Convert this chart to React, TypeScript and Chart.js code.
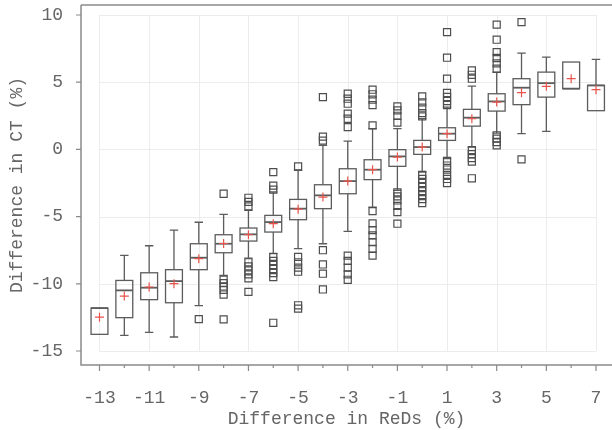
import { useEffect, useRef } from 'react';
import { Chart, registerables } from 'chart.js';

Chart.register(...registerables);

const categories = [-13, -12, -11, -10, -9, -8, -7, -6, -5, -4, -3, -2, -1, 0, 1, 2, 3, 4, 5, 6, 7];
const whiskerLow = [-13.76, -13.84, -13.62, -13.96, -11.63, -9.38, -8.09, -7.76, -7.39, -7.02, -6.1, -4.29, -3.05, -1.69, -0.69, 0.17, 1.21, 1.17, 1.34, 4.52, 2.88];
const q1 = [-13.76, -12.52, -11.18, -11.41, -8.95, -7.69, -6.82, -6.15, -5.23, -4.41, -3.3, -2.25, -1.26, -0.37, 0.67, 1.73, 2.85, 3.33, 3.89, 4.52, 2.88];
const median = [-11.81, -10.49, -10.29, -9.8, -8.06, -7.02, -6.32, -5.41, -4.41, -3.42, -2.36, -1.51, -0.52, 0.17, 1.17, 2.36, 3.57, 4.59, 4.93, 4.52, 4.76];
const q3 = [-11.81, -9.75, -9.18, -8.95, -7.02, -6.35, -5.85, -4.91, -3.72, -2.63, -1.44, -0.77, -0.02, 0.67, 1.61, 2.98, 4.14, 5.26, 5.75, 6.5, 4.76];
const whiskerHigh = [-11.81, -7.89, -7.17, -6.01, -5.42, -4.84, -4.54, -3.17, -1.56, 0.3, 0.62, 1.54, 1.54, 2.28, 3.15, 4.71, 5.75, 7.17, 6.87, 6.5, 6.7];
const means = [-12.48, -10.91, -10.24, -9.99, -8.13, -7.0, -6.35, -5.53, -4.45, -3.55, -2.36, -1.51, -0.57, 0.17, 1.17, 2.28, 3.52, 4.22, 4.69, 5.26, 4.44];
const outliers: number[][] = [
  [],
  [],
  [],
  [],
  [-12.63],
  [-3.3, -9.7, -9.95, -10.2, -10.45, -10.8, -12.65],
  [-3.6, -3.9, -4.24, -8.4, -8.7, -9.0, -9.3, -9.6, -10.6],
  [-1.69, -2.7, -3.0, -8.0, -8.3, -8.6, -8.9, -9.2, -9.5, -12.9],
  [-1.26, -8.0, -8.4, -8.8, -9.1, -11.6, -11.85],
  [3.89, 0.95, 0.65, -7.5, -8.56, -9.25, -10.42],
  [4.14, 3.77, 3.4, 2.66, 2.28, 1.66, -7.9, -8.3, -8.8, -9.3, -9.7],
  [4.44, 4.1, 3.7, 3.3, 1.79, -4.59, -5.5, -6.0, -6.4, -6.9, -7.4, -7.9],
  [3.2, 2.9, 2.5, 2.0, -3.2, -3.5, -3.8, -4.2, -4.66, -5.53],
  [3.94, 3.5, 3.1, 2.7, 2.45, -1.9, -2.2, -2.5, -2.8, -3.1, -3.4, -3.7, -4.0],
  [8.73, 6.82, 5.26, 4.2, 3.9, 3.6, 3.3, -0.85, -1.2, -1.5, -1.9, -2.2, -2.5],
  [5.87, 5.55, 5.26, -0.05, -0.35, -0.65, -0.9, -2.15],
  [9.28, 8.16, 7.24, 6.8, 6.4, 6.0, 1.05, 0.8, 0.55, 0.3],
  [9.47, -0.74],
  [],
  [],
  [],
];
const xTickValues = [-13, -11, -9, -7, -5, -3, -1, 1, 3, 5, 7];
const xMinorTickValues = [-12, -10, -8, -6, -4, -2, 0, 2, 4, 6];
const yTickValues = [-15, -10, -5, 0, 5, 10];

const FONT = { family: "'Liberation Mono', 'Courier New', monospace", size: 18 };
const TEXT_COLOR = '#666666';
const AXIS_COLOR = '#8a8a8a';
const BOX_COLOR = '#5c5c5c';

const boxPlugin = {
  id: 'boxPlot',
  beforeDatasetsDraw(chart: any) {
    const { ctx, scales } = chart;
    const x = scales.x;
    const y = scales.y;
    ctx.save();
    ctx.strokeStyle = '#ececec';
    ctx.lineWidth = 1;
    const gx0 = x.getPixelForValue(xTickValues[0]);
    const gx1 = x.getPixelForValue(xTickValues[xTickValues.length - 1]);
    const gy0 = y.getPixelForValue(yTickValues[0]);
    const gy1 = y.getPixelForValue(yTickValues[yTickValues.length - 1]);
    ctx.beginPath();
    xTickValues.forEach((v) => {
      const px = Math.round(x.getPixelForValue(v)) + 0.5;
      ctx.moveTo(px, gy0);
      ctx.lineTo(px, gy1);
    });
    yTickValues.forEach((v) => {
      const py = Math.round(y.getPixelForValue(v)) + 0.5;
      ctx.moveTo(gx0, py);
      ctx.lineTo(gx1, py);
    });
    ctx.stroke();

    const hw = 0.34;
    const capHw = 0.17;
    ctx.strokeStyle = BOX_COLOR;
    categories.forEach((c, i) => {
      const cx = x.getPixelForValue(c);
      const l = x.getPixelForValue(c - hw);
      const r = x.getPixelForValue(c + hw);
      const cl = x.getPixelForValue(c - capHw);
      const cr = x.getPixelForValue(c + capHw);
      const yq1 = y.getPixelForValue(q1[i]);
      const yq3 = y.getPixelForValue(q3[i]);
      const ymed = y.getPixelForValue(median[i]);
      const ylo = y.getPixelForValue(whiskerLow[i]);
      const yhi = y.getPixelForValue(whiskerHigh[i]);
      ctx.lineWidth = 1.3;
      ctx.beginPath();
      if (whiskerHigh[i] > q3[i]) {
        ctx.moveTo(cx, yq3);
        ctx.lineTo(cx, yhi);
        ctx.moveTo(cl, yhi);
        ctx.lineTo(cr, yhi);
      }
      if (whiskerLow[i] < q1[i]) {
        ctx.moveTo(cx, yq1);
        ctx.lineTo(cx, ylo);
        ctx.moveTo(cl, ylo);
        ctx.lineTo(cr, ylo);
      }
      ctx.stroke();
      ctx.strokeRect(l, yq3, r - l, yq1 - yq3);
      ctx.lineWidth = 1.8;
      ctx.beginPath();
      ctx.moveTo(l, ymed);
      ctx.lineTo(r, ymed);
      ctx.stroke();
    });
    ctx.restore();
  },
  afterDraw(chart: any) {
    const { ctx, scales, chartArea } = chart;
    const x = scales.x;
    const y = scales.y;
    ctx.save();
    ctx.strokeStyle = AXIS_COLOR;
    ctx.lineWidth = 1.5;
    ctx.beginPath();
    ctx.moveTo(chartArea.left, chartArea.top);
    ctx.lineTo(chartArea.right, chartArea.top);
    ctx.moveTo(chartArea.left, chartArea.top);
    ctx.lineTo(chartArea.left, chartArea.bottom);
    ctx.lineTo(chartArea.right, chartArea.bottom);
    ctx.stroke();
    ctx.lineWidth = 1.2;
    ctx.beginPath();
    yTickValues.forEach((v) => {
      const py = y.getPixelForValue(v);
      ctx.moveTo(chartArea.left - 5, py);
      ctx.lineTo(chartArea.left, py);
    });
    xTickValues.forEach((v) => {
      const px = x.getPixelForValue(v);
      ctx.moveTo(px, chartArea.bottom);
      ctx.lineTo(px, chartArea.bottom + 6);
    });
    xMinorTickValues.forEach((v) => {
      const px = x.getPixelForValue(v);
      ctx.moveTo(px, chartArea.bottom);
      ctx.lineTo(px, chartArea.bottom + 3);
    });
    ctx.stroke();
    ctx.restore();
  },
};

export default function App() {
  const canvasRef = useRef<HTMLCanvasElement | null>(null);

  useEffect(() => {
    document.body.style.margin = '0';
    const canvas = canvasRef.current;
    if (!canvas) return;

    const outlierPoints: { x: number; y: number }[] = [];
    outliers.forEach((list, i) => {
      list.forEach((v) => outlierPoints.push({ x: categories[i], y: v }));
    });
    const meanPoints = categories.map((c, i) => ({ x: c, y: means[i] }));

    const chart = new Chart(canvas, {
      type: 'scatter',
      data: {
        datasets: [
          {
            label: 'Outliers',
            data: outlierPoints,
            pointStyle: 'rect',
            radius: 5,
            borderColor: '#4e4e4e',
            backgroundColor: 'rgba(0,0,0,0)',
            borderWidth: 1.2,
          },
          {
            label: 'Mean',
            data: meanPoints,
            pointStyle: 'cross',
            radius: 4.5,
            borderColor: '#e8544c',
            backgroundColor: '#e8544c',
            borderWidth: 1.2,
          },
        ],
      },
      options: {
        animation: false,
        responsive: false,
        maintainAspectRatio: false,
        layout: { autoPadding: false, padding: { top: 5, right: 0, left: 0, bottom: 0 } },
        plugins: { legend: { display: false }, tooltip: { enabled: false } },
        scales: {
          x: {
            type: 'linear',
            min: -13.745,
            max: 7.645,
            afterBuildTicks: (s: any) => {
              s.ticks = xTickValues.map((v) => ({ value: v }));
            },
            afterFit: (s: any) => {
              s.height = 65;
              s.paddingLeft = 0;
              s.paddingRight = 0;
            },
            grid: { display: false, drawTicks: false },
            border: { display: false },
            ticks: {
              font: FONT,
              color: TEXT_COLOR,
              padding: 22,
              maxRotation: 0,
              autoSkip: false,
            },
            title: { display: true, text: 'Difference in ReDs (%)', font: FONT, color: TEXT_COLOR, padding: 0 },
          },
          y: {
            type: 'linear',
            min: -16.042,
            max: 10.744,
            afterBuildTicks: (s: any) => {
              s.ticks = yTickValues.map((v) => ({ value: v }));
            },
            afterFit: (s: any) => {
              s.width = 81;
              s.paddingTop = 0;
              s.paddingBottom = 0;
            },
            grid: { display: false, drawTicks: false },
            border: { display: false },
            ticks: {
              font: FONT,
              color: TEXT_COLOR,
              padding: 18,
              autoSkip: false,
            },
            title: { display: true, text: 'Difference in CT (%)', font: FONT, color: TEXT_COLOR, padding: 6 },
          },
        },
      },
      plugins: [boxPlugin],
    } as any);

    return () => chart.destroy();
  }, []);

  return <canvas ref={canvasRef} width={612} height={430} style={{ display: 'block' }} />;
}
